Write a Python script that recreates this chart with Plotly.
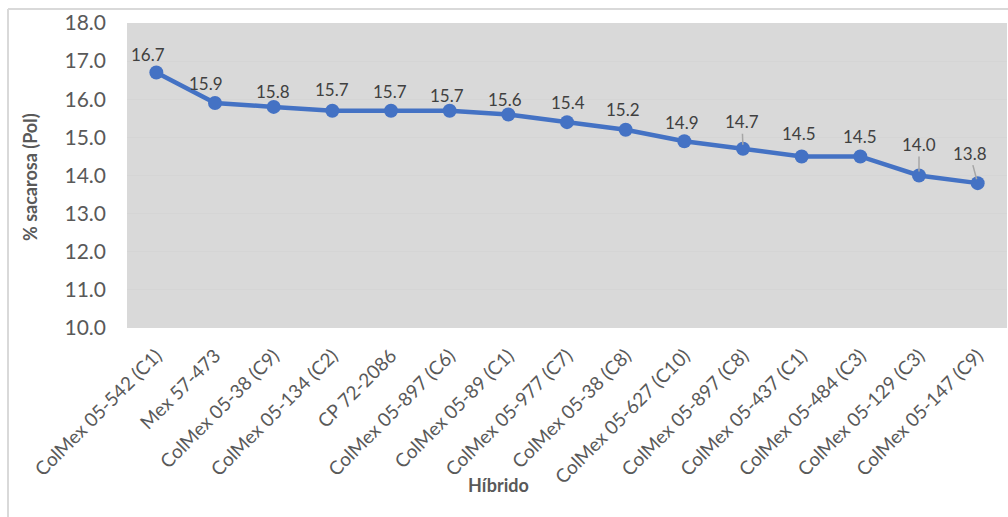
import plotly.graph_objects as go

# Sucrose content (Pol %) per sugarcane hybrid
hibridos = [
    "ColMex 05-542 (C1)", "Mex 57-473", "ColMex 05-38 (C9)", "ColMex 05-134 (C2)",
    "CP 72-2086", "ColMex 05-897 (C6)", "ColMex 05-89 (C1)", "ColMex 05-977 (C7)",
    "ColMex 05-38 (C8)", "ColMex 05-627 (C10)", "ColMex 05-897 (C8)", "ColMex 05-437 (C1)",
    "ColMex 05-484 (C3)", "ColMex 05-129 (C3)", "ColMex 05-147 (C9)",
]
sacarosa = [16.7, 15.9, 15.8, 15.7, 15.7, 15.7, 15.6, 15.4, 15.2, 14.9, 14.7, 14.5, 14.5, 14.0, 13.8]
y_ticks = [10.0, 11.0, 12.0, 13.0, 14.0, 15.0, 16.0, 17.0, 18.0]

# label placement (pixel shift dx, dy above point; leader line when True)
label_shift = [(-8, 18), (-9, 20), (-1, 15), (0, 21), (-1, 19), (-3, 15), (-3, 15), (1, 20),
               (-3, 20), (-2, 19), (-1, 27), (-3, 23), (0, 20), (0, 31), (-8, 30)]
leader = [False] * 10 + [True, False, False, True, True]

W, H = 1008, 517
ML, MR, MT, MB = 127, 1, 23, 189
PW, PH = W - ML - MR, H - MT - MB

def px(x):
    return (x - ML) / PW

def py(y):
    return (H - MB - y) / PH

FONT = "Lato"
TXT = "#595959"

fig = go.Figure()
fig.add_trace(go.Scatter(
    x=hibridos, y=sacarosa, mode="lines+markers",
    line=dict(color="#4472C4", width=4.5),
    marker=dict(color="#4472C4", size=14),
    hoverinfo="x+y", showlegend=False,
))

annotations = []
for h, v, (dx, dy), ld in zip(hibridos, sacarosa, label_shift, leader):
    if ld:
        annotations.append(dict(
            x=h, y=v, xref="x", yref="y", text=f"{v:.1f}",
            showarrow=True, ax=dx, ay=-dy, arrowhead=0, arrowwidth=1.5,
            arrowcolor="#A6A6A6", standoff=4,
            font=dict(family=FONT, size=17, color="#404040"),
        ))
    else:
        annotations.append(dict(
            x=h, y=v, xref="x", yref="y", text=f"{v:.1f}",
            showarrow=False, xshift=dx, yshift=dy, yanchor="middle",
            font=dict(family=FONT, size=17, color="#404040"),
        ))

annotations.append(dict(
    x=px(30), y=py(177), xref="paper", yref="paper", text="<b>% sacarosa (Pol)</b>",
    textangle=-90, showarrow=False, xanchor="center", yanchor="middle",
    font=dict(family=FONT, size=18, color=TXT),
))
annotations.append(dict(
    x=px(498), y=py(485), xref="paper", yref="paper", text="<b>Híbrido</b>",
    showarrow=False, xanchor="center", yanchor="middle",
    font=dict(family=FONT, size=18, color=TXT),
))

shapes = [
    dict(type="line", xref="paper", yref="paper", x0=px(8), x1=px(1010), y0=py(9), y1=py(9),
         line=dict(color="#D9D9D9", width=2)),
    dict(type="line", xref="paper", yref="paper", x0=px(8), x1=px(8), y0=py(9), y1=py(520),
         line=dict(color="#D9D9D9", width=2)),
]

fig.update_layout(
    width=W, height=H,
    margin=dict(l=ML, r=MR, t=MT, b=MB),
    paper_bgcolor="white", plot_bgcolor="#D9D9D9",
    annotations=annotations, shapes=shapes,
    xaxis=dict(
        type="category", range=[-0.5, len(hibridos) - 0.5], tickangle=-45,
        showgrid=False, zeroline=False, showline=False,
        ticks="", ticklabelstandoff=12,
        tickfont=dict(family=FONT, size=19, color=TXT),
    ),
    yaxis=dict(
        range=[10, 18], tickvals=y_ticks, ticktext=[f"{t:.1f}" for t in y_ticks],
        showgrid=True, gridcolor="#D5D5D5", gridwidth=1, zeroline=False, showline=False,
        ticks="", ticklabelstandoff=20,
        tickfont=dict(family=FONT, size=21, color=TXT),
    ),
)

fig.write_html("out.html")
